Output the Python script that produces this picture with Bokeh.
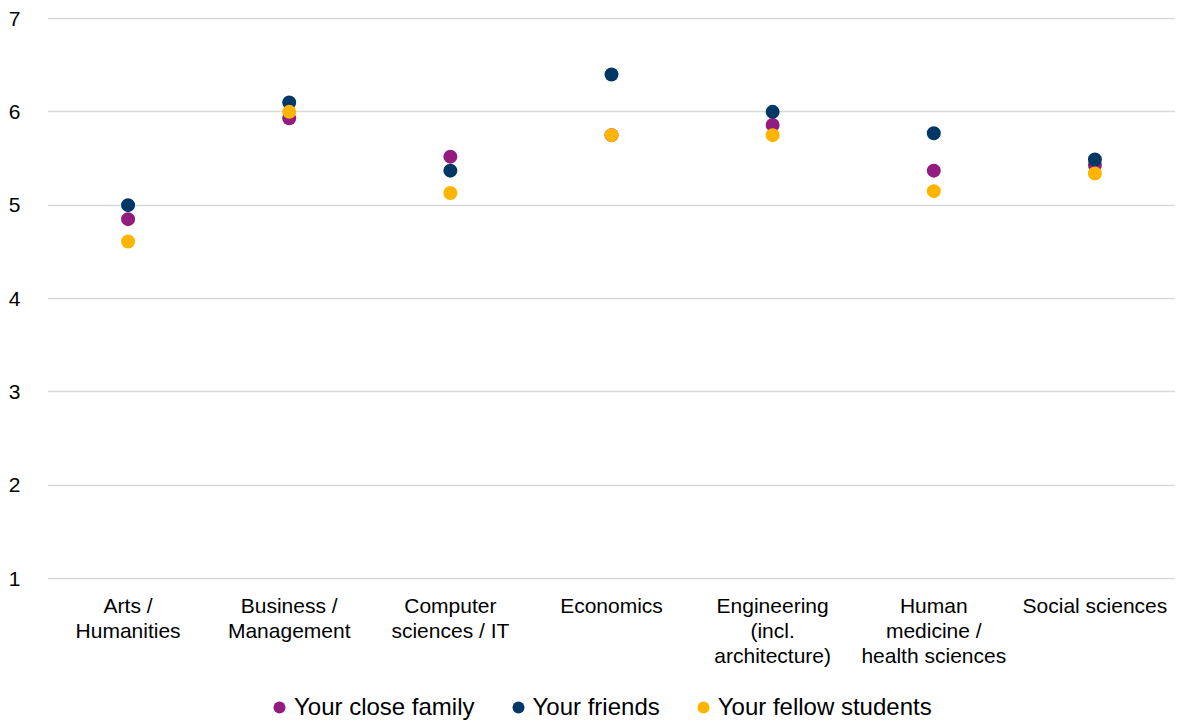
from bokeh.plotting import figure
from bokeh.models import Range1d, Legend, LegendItem, FixedTicker, Label
from bokeh.embed import file_html
from bokeh.resources import INLINE

categories = ["Arts /\nHumanities", "Business /\nManagement", "Computer\nsciences / IT",
              "Economics", "Engineering\n(incl.\narchitecture)", "Human\nmedicine /\nhealth sciences",
              "Social sciences"]
close_family = [4.85, 5.93, 5.52, 5.75, 5.86, 5.37, 5.43]
friends = [5.00, 6.10, 5.37, 6.40, 6.00, 5.77, 5.49]
fellow_students = [4.61, 6.00, 5.13, 5.75, 5.75, 5.15, 5.34]
y_ticks = [1, 2, 3, 4, 5, 6, 7]

FONT = "Liberation Sans"
xs = list(range(len(categories)))
PX = 560 / 6.0  # pixels per unit

p = figure(x_range=Range1d(-0.5, len(categories) - 0.5),
           y_range=Range1d(1 - 144 / PX, 7 + 18 / PX),
           width=1178, height=722, x_axis_location=None,
           output_backend="svg", toolbar_location=None,
           min_border_left=47, min_border_right=3, min_border_top=0, min_border_bottom=0)
p.outline_line_color = None
p.background_fill_color = "white"
p.border_fill_color = "white"

p.xgrid.grid_line_color = None
p.ygrid.grid_line_color = "#d9d9d9"
p.ygrid.grid_line_width = 1.5
p.yaxis.ticker = FixedTicker(ticks=y_ticks)

ax = p.yaxis[0]
ax.axis_line_color = None
ax.major_tick_line_color = None
ax.minor_tick_line_color = None
ax.major_label_text_font = FONT
ax.major_label_text_font_size = "21px"
ax.major_label_text_color = "#000000"
ax.major_label_standoff = 21

for i, cat in enumerate(categories):
    p.add_layout(Label(x=i, y=1 - 15.5 / PX, text=cat, text_align="center", text_baseline="top",
                       text_font=FONT, text_font_size="21px", text_color="#000000",
                       text_line_height=1.09))

r1 = p.scatter(xs, close_family, size=14, color="#941c80", line_color=None)
r2 = p.scatter(xs, friends, size=14, color="#003865", line_color=None)
r3 = p.scatter(xs, fellow_students, size=14, color="#ffb400", line_color=None)

legend = Legend(items=[LegendItem(label="Your close family", renderers=[r1]),
                       LegendItem(label="Your friends", renderers=[r2]),
                       LegendItem(label="Your fellow students", renderers=[r3])],
                orientation="horizontal", location=(217, 0),
                label_text_font=FONT, label_text_font_size="24px", label_text_color="#000000",
                glyph_width=30, glyph_height=30, label_standoff=0, spacing=28,
                border_line_color=None, background_fill_alpha=0, margin=0, padding=0)
p.add_layout(legend, "center")

open("out.html", "w").write(file_html(p, INLINE))
